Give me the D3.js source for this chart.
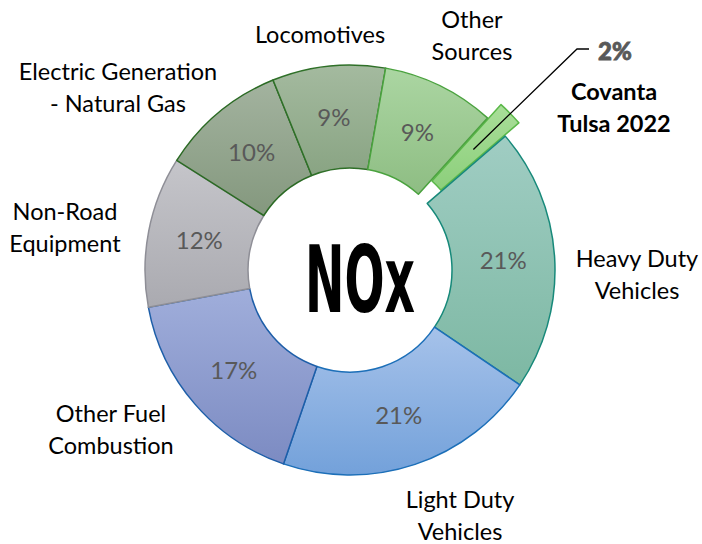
<!DOCTYPE html>
<html>
<head>
<meta charset="utf-8">
<script src="https://cdn.jsdelivr.net/npm/d3@7"></script>
<style>
  html, body { margin: 0; padding: 0; background: #fff; }
  svg { display: block; }
  text { font-family: Lato, "Open Sans", sans-serif; }
</style>
</head>
<body>
<svg id="chart" width="702" height="544"></svg>
<script>
'use strict'

// NOx share by source, clockwise from the exploded Covanta slice
const categories = [
  'Covanta Tulsa 2022',
  'Heavy Duty Vehicles',
  'Light Duty Vehicles',
  'Other Fuel Combustion',
  'Non-Road Equipment',
  'Electric Generation - Natural Gas',
  'Locomotives',
  'Other Sources'
]
const shares = [2, 21, 21, 17, 12, 10, 9, 9]
const labelLines = [
  ['Covanta', 'Tulsa 2022'],
  ['Heavy Duty', 'Vehicles'],
  ['Light Duty', 'Vehicles'],
  ['Other Fuel', 'Combustion'],
  ['Non-Road', 'Equipment'],
  ['Electric Generation', '- Natural Gas'],
  ['Locomotives'],
  ['Other', 'Sources']
]

// styling: [gradient top, gradient bottom, stroke]
const fills = [
  ['#a9de99', '#8ccf7b', '#5ab848'],
  ['#a0cdc3', '#7db8a3', '#17897a'],
  ['#a6c2ea', '#73a1da', '#1c6fb8'],
  ['#a0aedb', '#7c8bc2', '#1d5ea8'],
  ['#c5c5ca', '#aaaab0', '#8e8e96'],
  ['#a3b39f', '#84987e', '#2b6a24'],
  ['#a4ba9f', '#89a483', '#2f7028'],
  ['#abd6a2', '#8ebd83', '#4aa23e']
]

// label anchors: centre x, first baseline
const labelPos = [
  [614, 100],
  [637, 267],
  [460, 508],
  [111, 422],
  [65, 220],
  [118, 80],
  [320, 43],
  [472, 28]
]

const cx = 350
const cy = 270
const outerR = 205
const innerR = 102
const explode = 19
const startDeg = 42.1

const svg = d3.select('#chart')
const defs = svg.append('defs')

fills.forEach(function (f, i) {
  const g = defs.append('linearGradient')
    .attr('id', 'grad' + i)
    .attr('x1', 0).attr('y1', 0).attr('x2', 0).attr('y2', 1)
  g.append('stop').attr('offset', '0%').attr('stop-color', f[0])
  g.append('stop').attr('offset', '100%').attr('stop-color', f[1])
})

const data = categories.map((c, i) => ({ name: c, value: shares[i], idx: i }))

const start = startDeg * Math.PI / 180
const pie = d3.pie()
  .sort(null)
  .value(d => d.value)
  .startAngle(start)
  .endAngle(start + 2 * Math.PI)

const arcs = pie(data)
const arc = d3.arc().innerRadius(innerR).outerRadius(outerR)

function offsetOf (d) {
  if (d.data.idx !== 0) return [0, 0]
  const mid = (d.startAngle + d.endAngle) / 2
  return [explode * Math.sin(mid), -explode * Math.cos(mid)]
}

const g = svg.append('g').attr('transform', `translate(${cx},${cy})`)

g.selectAll('path.slice')
  .data(arcs)
  .join('path')
  .attr('class', 'slice')
  .attr('transform', d => `translate(${offsetOf(d)})`)
  .attr('d', arc)
  .attr('fill', d => `url(#grad${d.data.idx})`)
  .attr('stroke', d => fills[d.data.idx][2])
  .attr('stroke-width', 1.5)
  .attr('stroke-linejoin', 'round')

// percent labels in the ring (not for the exploded slice)
g.selectAll('text.pct')
  .data(arcs.filter(d => d.data.idx !== 0))
  .join('text')
  .attr('class', 'pct')
  .attr('x', d => arc.centroid(d)[0])
  .attr('y', d => arc.centroid(d)[1])
  .attr('dy', '0.35em')
  .attr('text-anchor', 'middle')
  .attr('font-size', 24)
  .attr('fill', '#595959')
  .text(d => d.data.value + '%')

// category labels
arcs.forEach(function (d) {
  const i = d.data.idx
  const p = labelPos[i]
  const t = svg.append('text')
    .attr('text-anchor', 'middle')
    .attr('font-size', 23.5)
    .attr('fill', '#000')
    .attr('font-weight', i === 0 ? 'bold' : 'normal')
  labelLines[i].forEach(function (line, k) {
    t.append('tspan')
      .attr('x', p[0])
      .attr('y', p[1] + k * 32)
      .text(line)
  })
})

// leader for the exploded slice
const cov = arcs[0]
const c0 = arc.centroid(cov)
const off = offsetOf(cov)
const sx = cx + c0[0] + off[0]
const sy = cy + c0[1] + off[1]
svg.append('polyline')
  .attr('points', [[sx, sy], [577, 49], [589, 49]].map(p => p.join(',')).join(' '))
  .attr('fill', 'none')
  .attr('stroke', '#000')
  .attr('stroke-width', 1.3)

svg.append('text')
  .attr('x', 598)
  .attr('y', 60)
  .attr('font-size', 24)
  .attr('font-weight', 900)
  .attr('fill', '#595959')
  .attr('stroke', '#595959')
  .attr('stroke-width', 0.8)
  .text(cov.data.value + '%')

// centre title, squeezed horizontally to a condensed look
const title = svg.append('text')
  .attr('x', 0)
  .attr('y', 0)
  .style('font-family', '"Liberation Sans Narrow", "DejaVu Sans Condensed", sans-serif')
  .attr('font-weight', 'bold')
  .attr('font-size', 92)
  .attr('fill', '#000')
  .text('NOx')
const natural = title.node().getComputedTextLength()
title.attr('transform', `translate(305,312) scale(${110 / natural},1)`)
</script>
</body>
</html>
